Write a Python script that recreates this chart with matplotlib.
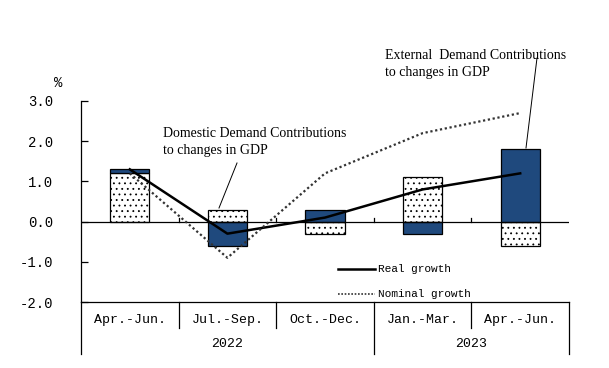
import matplotlib
matplotlib.use("Agg")
import matplotlib.pyplot as plt
import matplotlib.transforms as mtransforms
import numpy as np

plt.rcParams['hatch.linewidth'] = 0.6

quarters = ["Apr.-Jun.", "Jul.-Sep.", "Oct.-Dec.", "Jan.-Mar.", "Apr.-Jun."]
years = ["2022", "2023"]
year_spans = [(0, 3), (3, 5)]
domestic = [1.2, 0.3, -0.3, 1.1, -0.6]
external = [0.1, -0.6, 0.3, -0.3, 1.8]
real_growth = [1.3, -0.3, 0.1, 0.8, 1.2]
nominal_growth = [1.2, -0.9, 1.2, 2.2, 2.7]
yticks = [3.0, 2.0, 1.0, 0.0, -1.0, -2.0]

BLUE = "#1F497D"
mono = "Liberation Mono"
serif = "Liberation Serif"

fig = plt.figure(figsize=(6.09, 3.68), dpi=100)
W, H = 609, 368
L, R, T, B = 81, 569, 101, 302
ax = fig.add_axes([L / W, 1 - B / H, (R - L) / W, (B - T) / H])

x = np.arange(len(quarters))
width = 0.4

# stacked bars (positive on positive stack, negative on negative stack)
pos = np.zeros(len(x))
neg = np.zeros(len(x))
def stack(vals):
    vals = np.array(vals, dtype=float)
    bottoms = np.where(vals >= 0, pos, neg)
    return vals, bottoms

vals, bots = stack(domestic)
ax.bar(x, vals, width, bottom=bots, facecolor="white", edgecolor="black",
       linewidth=0.9, hatch="...", zorder=2)
pos += np.where(vals >= 0, vals, 0)
neg += np.where(vals < 0, vals, 0)
vals, bots = stack(external)
ax.bar(x, vals, width, bottom=bots, facecolor=BLUE, edgecolor="black",
       linewidth=0.9, zorder=2)

ax.plot(x, real_growth, color="black", linewidth=1.8, zorder=4)
ax.plot(x, nominal_growth, color="#333333", linewidth=1.6, linestyle=(0, (1, 1.2)), zorder=4)

ax.set_xlim(-0.5, len(x) - 0.5)
ax.set_ylim(-2.0, 3.0)
ax.set_yticks(yticks)
ax.set_yticklabels([f"{v:.1f}" for v in yticks], fontfamily=mono, fontsize=10)
ax.tick_params(axis="y", direction="in", length=5, width=0.9, pad=20)
ax.set_xticks([])
for s in ["top", "right"]:
    ax.spines[s].set_visible(False)
ax.spines["left"].set_linewidth(0.9)
ax.spines["bottom"].set_linewidth(0.9)

# zero line and category ticks
ax.axhline(0, color="black", linewidth=0.9, zorder=3)
for b in np.arange(0.5, len(x) - 0.5, 1):
    ax.plot([b, b], [0, 0.1], color="black", linewidth=0.9, zorder=3)

ax.text(-0.5 - 23 / 97.6, 3.45, "%", fontfamily=mono, fontsize=10, ha="center", va="center")

# table below
tr = mtransforms.blended_transform_factory(ax.transData, ax.transAxes)
def yf(py):
    return (B - py) / (B - T)
kw = dict(color="black", linewidth=0.9, transform=tr, clip_on=False)
ax.plot([-0.5, -0.5], [yf(302), yf(354)], **kw)
ax.plot([4.5, 4.5], [yf(302), yf(354)], **kw)
for i in range(1, len(x)):
    boundary = any(i == s for s, e in year_spans[1:])
    ax.plot([i - 0.5, i - 0.5], [yf(302), yf(354 if boundary else 328)], **kw)
for i, q in enumerate(quarters):
    ax.text(i, yf(320), q, transform=tr, ha="center", va="center",
            fontfamily=mono, fontsize=9.5)
for yr, (s, e) in zip(years, year_spans):
    ax.text((s + e - 1) / 2, yf(344), yr, transform=tr, ha="center", va="center",
            fontfamily=mono, fontsize=9.5)

# legend
ax.plot([(338 - L) / 97.6 - 0.5, (375 - L) / 97.6 - 0.5], [yf(269)] * 2,
        color="black", linewidth=1.8, transform=tr, clip_on=False)
ax.text((378 - L) / 97.6 - 0.5, yf(269), "Real growth", transform=tr, ha="left",
        va="center", fontfamily=mono, fontsize=8)
ax.plot([(338 - L) / 97.6 - 0.5, (375 - L) / 97.6 - 0.5], [yf(294)] * 2,
        color="#333333", linewidth=1.2, linestyle=(0, (1, 1)), transform=tr, clip_on=False)
ax.text((378 - L) / 97.6 - 0.5, yf(294), "Nominal growth", transform=tr, ha="left",
        va="center", fontfamily=mono, fontsize=8)

# annotations
def px2data(px, py):
    return ((px - L) / 97.6 - 0.5, 3.0 - (py - T) / ((B - T) / 5))

tx, ty = px2data(163, 142)
ax.text(tx, ty, "Domestic Demand Contributions\nto changes in GDP", fontfamily=serif,
        fontsize=10, ha="left", va="center", linespacing=1.35)
p1 = px2data(219, 208); p2 = px2data(237, 163)
ax.plot([p1[0], p2[0]], [p1[1], p2[1]], color="black", linewidth=0.7, clip_on=False, zorder=5)

tx, ty = px2data(385, 64)
ax.text(tx, ty, "External  Demand Contributions\nto changes in GDP", fontfamily=serif,
        fontsize=10, ha="left", va="center", linespacing=1.35)
p1 = px2data(526, 148); p2 = px2data(537, 58)
ax.plot([p1[0], p2[0]], [p1[1], p2[1]], color="black", linewidth=0.7, clip_on=False, zorder=5)

fig.savefig("out.png", dpi=100)
